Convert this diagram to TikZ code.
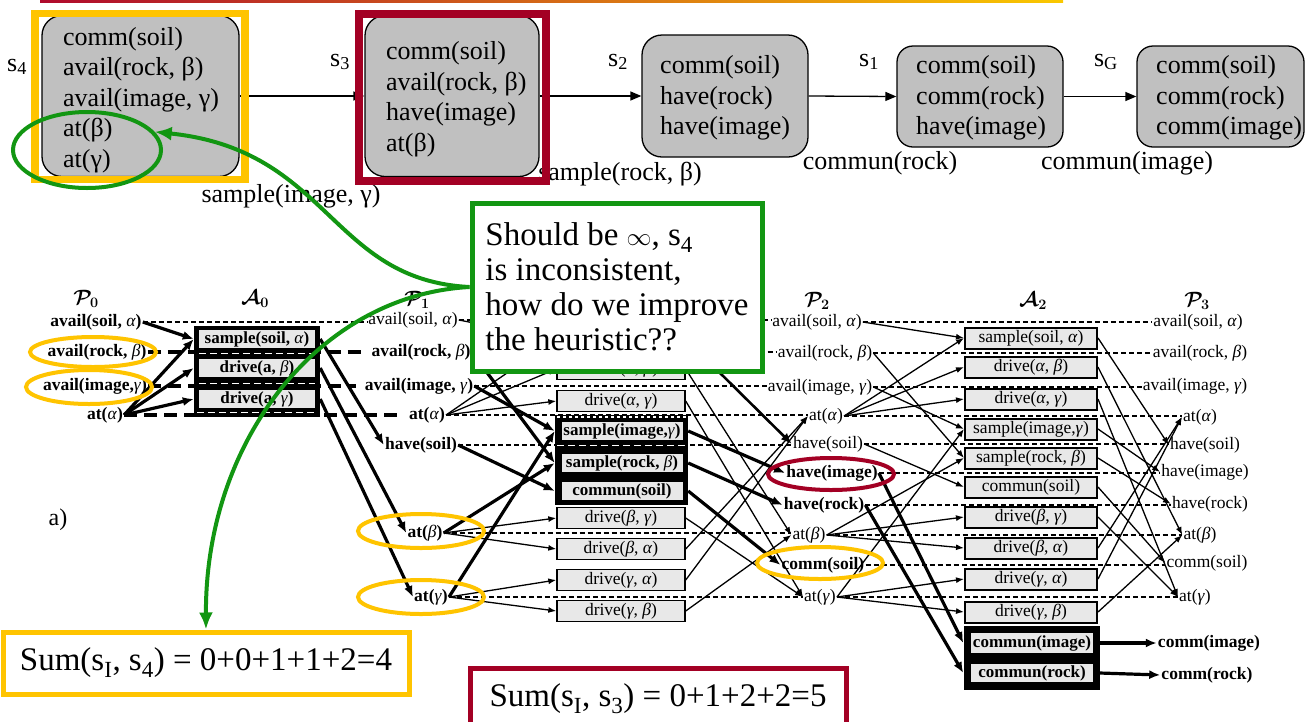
\documentclass[tikz,border=0pt]{standalone}
\usepackage{fontspec}
\setmainfont{Liberation Serif}
\usetikzlibrary{arrows.meta,shapes.geometric}
\definecolor{ygold}{RGB}{255,196,0}
\definecolor{dred}{RGB}{163,0,36}
\definecolor{ggreen}{RGB}{18,150,18}
\definecolor{stategray}{RGB}{192,192,192}
\definecolor{boxgray}{RGB}{232,232,232}
\definecolor{rulered}{RGB}{175,10,45}
\definecolor{ruleorange}{RGB}{232,110,20}
\definecolor{ruleyellow}{RGB}{250,200,0}
\newcommand\sub[1]{\textsubscript{#1}}
\newcommand\gk[1]{\textnormal{\itshape #1}}
\newcommand\gf{\fontsize{17.5}{19}\selectfont}
\newcommand\tf{\fontsize{26}{30.5}\selectfont}
\newcommand\cf{\fontsize{33}{35}\selectfont}
\begin{document}
\begin{tikzpicture}[x=1pt,y=-1pt,
  fact/.style={font=\gf, inner sep=1pt},
  bfact/.style={font=\gf\bfseries, inner sep=1pt},
  act/.style={draw, line width=1.4pt, fill=boxgray, minimum width=128pt, minimum height=21pt, inner sep=0pt, font=\gf},
  acttwo/.style={act, minimum width=132pt, line width=2pt},
  inbox/.style={fill=boxgray, inner sep=0pt, font=\fontsize{17}{18}\selectfont\bfseries, minimum height=18pt, text height=12pt, text depth=4pt},
  blkframe/.style={fill=black, inner sep=0pt},
  noop/.style={line width=1.3pt, dash pattern=on 5pt off 3pt},
  bnoop/.style={line width=4pt, dash pattern=on 13pt off 7pt, shorten >=8pt},
  wgap/.style={white, line width=1.6pt, dash pattern=on 7pt off 4pt},
  ed/.style={line width=1.3pt, -{Latex[length=8pt,width=6pt]}},
  bed/.style={line width=3.2pt, -{Latex[length=11pt,width=9pt]}},
  lay/.style={font=\fontsize{20}{20}\selectfont\boldmath, inner sep=0pt},
  stbox/.style={draw, line width=1.3pt, fill=stategray, rounded corners=20pt, inner sep=0pt},
  stxt/.style={font=\tf, align=left, anchor=west, inner sep=0pt},
  slab/.style={font=\tf, inner sep=0pt},
  sarrow/.style={line width=1.3pt, -{Triangle[length=11pt,width=9pt]}},
  ell/.style={ellipse, draw, line width=4pt, inner sep=0pt},
  garrow/.style={ggreen, line width=4pt, -{Latex[length=17pt,width=14pt]}},
  sumbox/.style={draw, line width=5pt, fill=white, inner sep=0pt, font=\cf}
]
\useasboundingbox (0,0) rectangle (1307,721);
\fill[white] (0,0) rectangle (1307,721);

% ---------- title rule ----------
\shade[left color=rulered, middle color=ruleorange, right color=ruleyellow] (40,0) rectangle (1063,2.5);

% ---------- state sequence ----------
\node[stbox, minimum width=197pt, minimum height=161pt] (s4b) at (140.5,96) {};
\node[stbox, minimum width=174pt, minimum height=161pt] (s3b) at (452,96) {};
\node[stbox, minimum width=166pt, minimum height=122pt] (s2b) at (725,96) {};
\node[stbox, rounded corners=16pt, minimum width=166pt, minimum height=101pt] (s1b) at (980,96.5) {};
\node[stbox, rounded corners=16pt, minimum width=167pt, minimum height=101pt] (sGb) at (1220.5,96.5) {};

\node[stxt] (s4t) at (63,100) {comm(soil)\\avail(rock, β)\\avail(image, γ)\\at(β)\\at(γ)};
\node[stxt] (s3t) at (386,99) {comm(soil)\\avail(rock, β)\\have(image)\\at(β)};
\node[stxt] (s2t) at (660,98) {comm(soil)\\have(rock)\\have(image)};
\node[stxt] (s1t) at (916,98) {comm(soil)\\comm(rock)\\have(image)};
\node[stxt] (sGt) at (1156,98) {comm(soil)\\comm(rock)\\comm(image)};

\node[slab] (s4l) at (17,67) {s\sub{4}};
\node[slab] (s3l) at (340,62) {s\sub{3}};
\node[slab] (s2l) at (618,62) {s\sub{2}};
\node[slab] (s1l) at (869,62) {s\sub{1}};
\node[slab] (sGl) at (1106,62) {s\sub{G}};

\draw[sarrow] (s4b.east) -- (s3b.west);
\draw[sarrow] (s3b.east) -- (s2b.west);
\draw[sarrow] (s2b.east) -- (s1b.west);
\draw[sarrow] (s1b.east) -- (sGb.west);

\node[slab] (l1) at (291,196) {sample(image, γ)};
\node[slab] (l2) at (620,174) {sample(rock, β)};
\node[slab] (l3) at (880,163) {commun(rock)};
\node[slab] (l4) at (1127,163) {commun(image)};

\draw[ygold, line width=7.5pt] (35,13.5) rectangle (245,179.5);
\draw[dred, line width=8pt] (359,14) rectangle (546,180.5);

% ---------- planning graph: layer labels ----------
\node[lay] (lP0) at (86,299) {$\mathcal{P}_0$};
\node[lay] (lA0) at (255,299) {$\mathcal{A}_0$};
\node[lay] (lP1) at (417,300) {$\mathcal{P}_1$};
\node[lay] (lP2) at (817,301) {$\mathcal{P}_2$};
\node[lay] (lA2) at (1033,301) {$\mathcal{A}_2$};
\node[lay] (lP3) at (1197,301) {$\mathcal{P}_3$};
\node[font=\fontsize{24}{24}\selectfont, inner sep=0pt] (lbla) at (58,520) {a)};

% ---------- fact layers ----------
\node[bfact] (p0s) at (96,322) {avail(soil, \gk{α})};
\node[bfact] (p0r) at (97,352) {avail(rock, \gk{β})};
\node[bfact] (p0i) at (95,386) {avail(image,\gk{γ})};
\node[bfact] (p0a) at (105,415) {at(\gk{α})};

\node[fact]  (p1s) at (413,320) {avail(soil, \gk{α})};
\node[bfact] (p1r) at (421,352) {avail(rock, \gk{β})};
\node[bfact] (p1i) at (419,386) {avail(image, \gk{γ})};
\node[bfact] (p1a) at (427,415) {at(\gk{α})};
\node[bfact] (p1h) at (421,445) {have(soil)};
\node[bfact] (p1b) at (425,533) {at(\gk{β})};
\node[bfact] (p1g) at (431,597) {at(\gk{γ})};

\node[fact]  (p2s)  at (817,322) {avail(soil, \gk{α})};
\node[fact]  (p2r)  at (825,353) {avail(rock, \gk{β})};
\node[fact]  (p2i)  at (820,387) {avail(image, \gk{γ})};
\node[fact]  (p2a)  at (826,416) {at(\gk{α})};
\node[fact]  (p2h)  at (828,444) {have(soil)};
\node[bfact] (p2im) at (832,473) {have(image)};
\node[bfact] (p2rk) at (824,505) {have(rock)};
\node[fact]  (p2b)  at (809,535) {at(\gk{β})};
\node[bfact] (p2cs) at (823,565) {comm(soil)};
\node[fact]  (p2g)  at (820,597) {at(\gk{γ})};

\node[fact]  (p3s)  at (1198,322) {avail(soil, \gk{α})};
\node[fact]  (p3r)  at (1200,353) {avail(rock, \gk{β})};
\node[fact]  (p3i)  at (1195,386) {avail(image, \gk{γ})};
\node[fact]  (p3a)  at (1200,417) {at(\gk{α})};
\node[fact]  (p3h)  at (1205,445) {have(soil)};
\node[fact]  (p3im) at (1205,472) {have(image)};
\node[fact]  (p3rk) at (1210,504) {have(rock)};
\node[fact]  (p3b)  at (1200,535) {at(\gk{β})};
\node[fact]  (p3cs) at (1207,563) {comm(soil)};
\node[fact]  (p3g)  at (1195,597) {at(\gk{γ})};
\node[bfact] (p3ci) at (1209,643) {comm(image)};
\node[bfact] (p3cr) at (1207,675) {comm(rock)};

% ---------- persistence (no-op) lines ----------
\draw[noop, line width=2pt] (p0s.east) -- (p0s.east -| p1s.west);
\draw[bnoop] (p0r.east) -- (p0r.east -| p1r.west);
\draw[bnoop] (p0i.east) -- (p0i.east -| p1i.west);
\draw[bnoop] (p0a.east) -- (p0a.east -| p1a.west);

\foreach \a/\b in {p1s/p2s, p1r/p2r, p1i/p2i, p1a/p2a, p1h/p2h, p1b/p2b, p1g/p2g,
                   p2s/p3s, p2r/p3r, p2i/p3i, p2a/p3a, p2h/p3h, p2im/p3im, p2rk/p3rk,
                   p2b/p3b, p2cs/p3cs, p2g/p3g}
  \draw[noop] (\a.east) -- (\a.east -| \b.west);

% ---------- action layer A0 ----------
\node[blkframe, minimum width=126pt, minimum height=91pt] (a0f) at (257,371) {};
\node[inbox, minimum width=116pt] (a0ss) at (257,339) {sample(soil, \gk{α})};
\node[inbox, minimum width=116pt] (a0db) at (257,368) {drive(a, \gk{β})};
\node[inbox, minimum width=116pt] (a0dg) at (257,399) {drive(a, \gk{γ})};
\draw[wgap] (199,353.5) -- (315,353.5);
\draw[wgap] (199,383.5) -- (315,383.5);
\draw[wgap] (197,412.5) -- (317,412.5);

% ---------- action layer A1 (its top box lies under the note) ----------
\node[act] (a1ss)  at (621,339) {};
\node[act] (a1dab) at (621,369) {drive(\gk{α}, \gk{β})};
\node[act] (a1dag) at (621,401) {drive(\gk{α}, \gk{γ})};
\node[blkframe, minimum width=133pt, minimum height=90pt] (a1f) at (621.5,460) {};
\node[inbox, minimum width=121pt] (a1si) at (622,431) {sample(image,\gk{γ})};
\node[inbox, minimum width=121pt] (a1sr) at (622,463) {sample(rock, \gk{β})};
\node[inbox, minimum width=121pt] (a1cs) at (622,491) {commun(soil)};
\draw[wgap] (557,445.5) -- (686,445.5);
\draw[wgap, dash pattern=on 3pt off 3pt] (557,417) -- (686,417);
\node[act] (a1dbg) at (621,518) {drive(\gk{β}, \gk{γ})};
\node[act] (a1dba) at (621,549) {drive(\gk{β}, \gk{α})};
\node[act] (a1dga) at (621,580) {drive(\gk{γ}, \gk{α})};
\node[act] (a1dgb) at (621,611) {drive(\gk{γ}, \gk{β})};

% ---------- action layer A2 ----------
\node[acttwo] (a2ss)  at (1031,338) {sample(soil, \gk{α})};
\node[acttwo] (a2dab) at (1031,367) {drive(\gk{α}, \gk{β})};
\node[acttwo] (a2dag) at (1031,399) {drive(\gk{α}, \gk{γ})};
\node[acttwo] (a2si)  at (1031,429) {sample(image,\gk{γ})};
\node[acttwo] (a2sr)  at (1031,458) {sample(rock, \gk{β})};
\node[acttwo] (a2cs)  at (1031,487) {commun(soil)};
\node[acttwo] (a2dbg) at (1031,517) {drive(\gk{β}, \gk{γ})};
\node[acttwo] (a2dba) at (1031,548) {drive(\gk{β}, \gk{α})};
\node[acttwo] (a2dga) at (1031,579) {drive(\gk{γ}, \gk{α})};
\node[acttwo] (a2dgb) at (1031,612) {drive(\gk{γ}, \gk{β})};
\node[blkframe, minimum width=136pt, minimum height=64pt] (a2f) at (1031.5,658) {};
\node[inbox, minimum width=122pt, minimum height=20pt] (a2ci) at (1032,643) {commun(image)};
\node[inbox, minimum width=122pt] (a2cr) at (1032,673) {commun(rock)};

% ---------- precondition and effect edges ----------
% P0 -> A0 -> P1
\draw[bed] (p0s.east) -- (a0f.west |- a0ss);
\draw[bed] (p0a.east) -- (a0f.west |- a0ss);
\draw[bed] (p0a.east) -- (a0f.west |- a0db);
\draw[bed] (p0a.east) -- (a0f.west |- a0dg);
\draw[bed] (a0f.east |- a0ss) -- (p1h.west);
\draw[bed] (a0f.east |- a0db) -- (p1b.west);
\draw[bed] (a0f.east |- a0dg) -- (p1g.west);

% P1 -> A1
\draw[bed] (p1i.east) -- (a1f.west |- a1si);
\draw[bed] (p1g.east) -- (a1f.west |- a1si);
\draw[bed] (p1r.east) -- (a1f.west |- a1sr);
\draw[bed] (p1b.east) -- (a1f.west |- a1sr);
\draw[bed] (p1h.east) -- (a1f.west |- a1cs);
\foreach \a/\b in {p1s/a1ss, p1a/a1ss, p1a/a1dab, p1a/a1dag, p1b/a1dbg, p1b/a1dba, p1g/a1dga, p1g/a1dgb}
  \draw[ed] (\a.east) -- (\b.west);

% A1 -> P2
\draw[bed] (a1f.east |- a1si) -- (p2im.west);
\draw[bed] (a1f.east |- a1sr) -- (p2rk.west);
\draw[bed] (a1f.east |- a1cs) -- (p2cs.west);
\draw[bed, line width=2.6pt] (a1ss.east) -- (p2h.west);
\foreach \a/\b in {a1dab/p2b, a1dag/p2g, a1dbg/p2g, a1dba/p2a, a1dga/p2a, a1dgb/p2b}
  \draw[ed] (\a.east) -- (\b.west);

% P2 -> A2
\foreach \a/\b in {p2s/a2ss, p2a/a2ss, p2a/a2dab, p2a/a2dag, p2i/a2si, p2g/a2si, p2r/a2sr,
                   p2b/a2sr, p2h/a2cs, p2b/a2dbg, p2b/a2dba, p2g/a2dga, p2g/a2dgb}
  \draw[ed] (\a.east) -- (\b.west);
\draw[bed] (p2im.east) -- (a2f.west |- a2ci);
\draw[bed] (p2rk.east) -- (a2f.west |- a2cr);

% A2 -> P3
\foreach \a/\b in {a2ss/p3h, a2dab/p3b, a2dag/p3g, a2si/p3im, a2sr/p3rk, a2cs/p3cs,
                   a2dbg/p3g, a2dba/p3a, a2dga/p3a, a2dgb/p3b}
  \draw[ed] (\a.east) -- (\b.west);
\draw[bed] (a2f.east |- a2ci) -- (p3ci.west);
\draw[bed] (a2f.east |- a2cr) -- (p3cr.west);

% ---------- highlighted facts ----------
\node[ell, draw=ygold, minimum width=126pt, minimum height=30pt] (e0r) at (93,352) {};
\node[ell, draw=ygold, minimum width=126pt, minimum height=34pt] (e0i) at (89,387) {};
\node[ell, draw=ygold, minimum width=126pt, minimum height=34pt] (e1b) at (421,531) {};
\node[ell, draw=ygold, minimum width=126pt, minimum height=34pt] (e1g) at (421,597) {};
\node[ell, draw=ygold, minimum width=126pt, minimum height=32pt] (e2c) at (820,563) {};
\node[ell, draw=dred, minimum width=126pt, minimum height=32pt] (e2i) at (831,474) {};

% ---------- annotations ----------
\node[draw=ggreen, line width=5pt, fill=white, minimum width=290pt, minimum height=168pt,
      align=left, inner sep=0pt, font=\cf] (note) at (617,287)
  {Should be $\infty$, s\sub{4}\\is inconsistent,\\how do we improve\\the heuristic??};

\node[sumbox, draw=ygold, minimum width=406pt, minimum height=62pt] (sum4) at (206,663)
  {Sum(s\sub{I}, s\sub{4}) = 0+0+1+1+2=4};
\node[sumbox, draw=dred, minimum width=376pt, minimum height=62pt] (sum3) at (658,699)
  {Sum(s\sub{I}, s\sub{3}) = 0+1+2+2=5};

\node[ell, draw=ggreen, minimum width=148pt, minimum height=76pt] (gell) at (87,150) {};

\draw[garrow] (note.west) .. controls (330,280) and (330,150) .. (gell.15);
\draw[garrow] (note.west) .. controls (320,295) and (205,440) .. (sum4.north);
\end{tikzpicture}
\end{document}
